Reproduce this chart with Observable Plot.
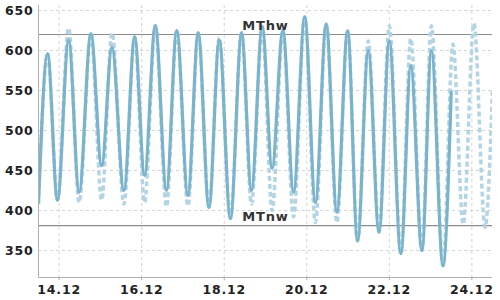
<!DOCTYPE html>
<html>
<head>
<meta charset="utf-8">
<script src="https://cdn.jsdelivr.net/npm/d3@7"></script>
<script src="https://cdn.jsdelivr.net/npm/@observablehq/plot@0.6"></script>
<style>
  html, body { margin: 0; padding: 0; background: #fff; }
  svg { display: block; }
</style>
</head>
<body>
<div id="chart"></div>
<script>
const obsTime = [
  "2023-12-13T12:00Z","2023-12-13T17:17Z","2023-12-13T23:02Z","2023-12-14T05:31Z","2023-12-14T11:38Z",
  "2023-12-14T18:29Z","2023-12-15T00:43Z","2023-12-15T06:43Z","2023-12-15T13:41Z","2023-12-15T19:55Z",
  "2023-12-16T01:41Z","2023-12-16T07:55Z","2023-12-16T14:24Z","2023-12-16T20:24Z","2023-12-17T02:53Z",
  "2023-12-17T08:53Z","2023-12-17T15:07Z","2023-12-17T21:07Z","2023-12-18T03:36Z","2023-12-18T10:05Z",
  "2023-12-18T15:50Z","2023-12-18T22:05Z","2023-12-19T03:50Z","2023-12-19T10:05Z","2023-12-19T16:19Z",
  "2023-12-19T22:48Z","2023-12-20T05:02Z","2023-12-20T11:17Z","2023-12-20T17:31Z","2023-12-20T23:46Z",
  "2023-12-21T05:31Z","2023-12-21T11:46Z","2023-12-21T18:00Z","2023-12-22T00:00Z","2023-12-22T06:43Z",
  "2023-12-22T12:29Z","2023-12-22T18:58Z","2023-12-23T00:29Z","2023-12-23T07:12Z","2023-12-23T12:00Z"
];
const obsLevel = [
  410, 596, 413, 613, 423, 621, 456, 604, 425, 617,
  444, 631, 425, 625, 419, 622, 404, 613, 390, 622,
  425, 630, 453, 625, 423, 642, 410, 633, 398, 625,
  362, 600, 373, 612, 346, 581, 350, 600, 331, 548
];

// Forecast water level (dashed)
const fcTime = [
  "2023-12-13T12:00Z","2023-12-13T17:17Z","2023-12-13T23:02Z","2023-12-14T05:31Z","2023-12-14T11:38Z",
  "2023-12-14T18:29Z","2023-12-15T00:43Z","2023-12-15T06:43Z","2023-12-15T13:41Z","2023-12-15T19:55Z",
  "2023-12-16T01:41Z","2023-12-16T07:55Z","2023-12-16T14:24Z","2023-12-16T20:24Z","2023-12-17T02:53Z",
  "2023-12-17T08:53Z","2023-12-17T15:07Z","2023-12-17T21:07Z","2023-12-18T03:36Z","2023-12-18T10:05Z",
  "2023-12-18T15:50Z","2023-12-18T22:05Z","2023-12-19T03:50Z","2023-12-19T10:05Z","2023-12-19T16:19Z",
  "2023-12-19T22:48Z","2023-12-20T05:02Z","2023-12-20T11:17Z","2023-12-20T17:31Z","2023-12-20T23:46Z",
  "2023-12-21T05:31Z","2023-12-21T11:46Z","2023-12-21T18:00Z","2023-12-22T00:00Z","2023-12-22T06:43Z",
  "2023-12-22T12:29Z","2023-12-22T18:58Z","2023-12-23T00:29Z","2023-12-23T07:12Z","2023-12-23T12:58Z",
  "2023-12-23T18:58Z","2023-12-24T01:12Z","2023-12-24T07:41Z","2023-12-24T12:00Z"
];
const fcLevel = [
  408, 596, 413, 628, 410, 621, 413, 622, 408, 617,
  410, 631, 405, 625, 406, 622, 404, 616, 390, 622,
  408, 630, 400, 625, 392, 642, 385, 633, 385, 625,
  362, 612, 373, 631, 346, 615, 350, 631, 331, 608,
  383, 634, 379, 551
];

// Reference levels
const levelNames = ["MThw", "MTnw"];
const levelValues = [620, 381];

// Axis ticks
const yTicks = [350, 400, 450, 500, 550, 600, 650];
const xTickDates = ["2023-12-14","2023-12-16","2023-12-18","2023-12-20","2023-12-22","2023-12-24"];

const obs = obsTime.map((t, i) => ({date: new Date(t), level: obsLevel[i]}));
const fc = fcTime.map((t, i) => ({date: new Date(t), level: fcLevel[i]}));
const levels = levelNames.map((n, i) => ({name: n, value: levelValues[i]}));
const xTicks = xTickDates.map(d => new Date(d + "T00:00Z"));

const xDomain = [new Date("2023-12-13T12:00Z"), new Date("2023-12-24T12:00Z")];
const yDomain = [316.25, 656.25];
const labelDate = new Date("2023-12-19T00:00Z");

const chart = Plot.plot({
  width: 500,
  height: 300,
  marginLeft: 38,
  marginRight: 8,
  marginTop: 5,
  marginBottom: 23,
  style: {fontFamily: "DejaVu Sans", fontSize: "12.5px", fontWeight: "bold", color: "#222", background: "#fff", letterSpacing: "0.8px"},
  x: {type: "utc", domain: xDomain},
  y: {domain: yDomain},
  marks: [
    Plot.gridY(yTicks, {stroke: "#d4d4d4", strokeOpacity: 1, strokeDasharray: "3,3"}),
    Plot.gridX(xTicks, {stroke: "#d4d4d4", strokeOpacity: 1, strokeDasharray: "3,3"}),
    Plot.ruleY(levels, {y: "value", stroke: "#8c8c8c", strokeWidth: 1.2}),
    Plot.lineY(fc, {x: "date", y: "level", stroke: "#b3d4e3", strokeWidth: 3.5, strokeDasharray: "5,3", strokeLinecap: "butt", curve: "monotone-x", clip: true}),
    Plot.lineY(obs, {x: "date", y: "level", stroke: "#79b3cc", strokeWidth: 3.2, curve: "monotone-x", clip: true}),
    Plot.text(levels, {x: () => labelDate, y: "value", text: "name", dy: -9, fontSize: 13, fill: "#333"}),
    Plot.axisY(yTicks, {tickSize: 0, tickPadding: 5, label: null, fill: "#222"}),
    Plot.axisX(xTicks, {tickSize: 3, tickPadding: 5, tickFormat: d3.utcFormat("%d.%m"), label: null, stroke: "#aaa", fill: "#222"}),
    Plot.ruleX([xDomain[0]], {stroke: "#b0b0b0"}),
    Plot.ruleY([yDomain[0]], {stroke: "#b0b0b0"})
  ]
});
document.getElementById("chart").appendChild(chart);
</script>
</body>
</html>
